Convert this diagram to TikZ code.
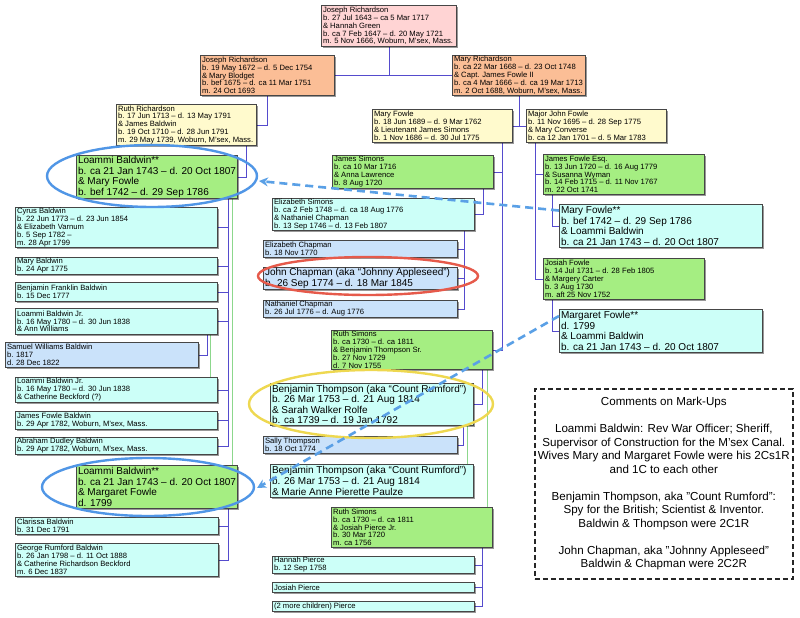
\documentclass[tikz,border=0pt]{standalone}
\usepackage{fontspec}
\setmainfont{Liberation Sans}
\usetikzlibrary{shadows,calc,arrows.meta}
\pgfdeclarelayer{bg}
\pgfsetlayers{bg,main}
\definecolor{cpink}{RGB}{255,212,212}
\definecolor{corange}{RGB}{251,190,150}
\definecolor{cyellow}{RGB}{255,250,205}
\definecolor{cgreen}{RGB}{165,238,130}
\definecolor{ccyan}{RGB}{204,255,248}
\definecolor{cblue}{RGB}{202,226,250}
\definecolor{boxline}{RGB}{70,70,70}
\definecolor{connc}{RGB}{85,75,205}
\definecolor{samec}{RGB}{140,215,140}
\definecolor{ringblue}{RGB}{80,150,230}
\definecolor{ringred}{RGB}{230,90,75}
\definecolor{ringyel}{RGB}{238,216,80}
\definecolor{arrowc}{RGB}{90,160,230}
\tikzset{
  card/.style={draw=boxline, line width=0.7pt,
    drop shadow={shadow xshift=1.6pt, shadow yshift=-1.6pt, opacity=0.4, fill=black}},
  pinkc/.style={fill=cpink},
  orangec/.style={fill=corange},
  yellowc/.style={fill=cyellow},
  greenc/.style={fill=cgreen},
  cyanc/.style={fill=ccyan},
  bluec/.style={fill=cblue},
  smalltxt/.style={font=\fontsize{7.65pt}{7.9pt}\selectfont},
  bigtxt/.style={font=\fontsize{10pt}{10.6pt}\selectfont},
  cardtext/.style={align=left, inner sep=0pt, text=black},
  conn/.style={draw=connc, line width=0.7pt},
  same/.style={draw=samec, line width=0.7pt},
  ring/.style={line width=2.4pt},
  markarrow/.style={draw=arrowc, line width=2.6pt, dash pattern=on 8pt off 5pt,
    -{Stealth[length=9pt,width=9pt]}},
  commentbox/.style={draw=black!85, line width=1.6pt, dash pattern=on 5pt off 3pt},
  commenttext/.style={align=center, font=\fontsize{11.6pt}{13.5pt}\selectfont, inner sep=0pt}
}
% name, colour style, font style, x1, y1, x2, y2, text
\newcommand\famcard[8]{%
  \node[card,#2,anchor=north west,minimum width={(#6)-(#4)},minimum height={(#7)-(#5)},inner sep=0pt] (#1) at (#4,#5) {};
  \node[cardtext,#3,anchor=west] (#1t) at ([xshift=1.8pt]#1.west) {#8};}
\begin{document}
\begin{tikzpicture}[x=1pt,y=-1pt]
\useasboundingbox (0,0) rectangle (800,618);
\begin{pgfonlayer}{bg}
\fill[white] (0,0) rectangle (800,618);
\end{pgfonlayer}

% ---------- top generations
\famcard{jr0}{pinkc}{smalltxt}{321}{5}{456}{46}{Joseph Richardson\\b. 27 Jul 1643 – ca 5 Mar 1717\\\& Hannah Green\\b. ca 7 Feb 1647 – d. 20 May 1721\\m. 5 Nov 1666, Woburn, M'sex, Mass.}
\famcard{jr1}{orangec}{smalltxt}{200}{55}{334}{95}{Joseph Richardson\\b. 19 May 1672 – d. 5 Dec 1754\\\& Mary Blodget\\b. bef 1675 – d. ca 11 Mar 1751\\m. 24 Oct 1693}
\famcard{mr1}{orangec}{smalltxt}{452}{55}{585}{95}{Mary Richardson\\b. ca 22 Mar 1668 – d. 23 Oct 1748\\\& Capt. James Fowle II\\b. ca 4 Mar 1666 – d. ca 19 Mar 1713\\m. 2 Oct 1688, Woburn, M'sex, Mass.}

% ---------- left column
\famcard{ruth}{yellowc}{smalltxt}{116}{104}{256}{145}{Ruth Richardson\\b. 17 Jun 1713 – d. 13 May 1791\\\& James Baldwin\\b. 19 Oct 1710 – d. 28 Jun 1791\\m. 29 May 1739, Woburn, M'sex, Mass.}
\famcard{lb1}{greenc}{bigtxt}{76}{155}{237}{198}{Loammi Baldwin**\\b. ca 21 Jan 1743 – d. 20 Oct 1807\\\& Mary Fowle\\b. bef 1742 – d. 29 Sep 1786}
\famcard{cyrus}{cyanc}{smalltxt}{15}{207}{217}{247}{Cyrus Baldwin\\b. 22 Jun 1773 – d. 23 Jun 1854\\\& Elizabeth Varnum\\b. 5 Sep 1782 –\\m. 28 Apr 1799}
\famcard{maryb}{cyanc}{smalltxt}{15}{257}{217}{274}{Mary Baldwin\\b. 24 Apr 1775}
\famcard{benf}{cyanc}{smalltxt}{15}{282}{217}{301}{Benjamin Franklin Baldwin\\b. 15 Dec 1777}
\famcard{ljr1}{cyanc}{smalltxt}{15}{308}{217}{334}{Loammi Baldwin Jr.\\b. 16 May 1780 – d. 30 Jun 1838\\\& Ann Williams}
\famcard{sam}{bluec}{smalltxt}{5}{342}{198}{367}{Samuel Williams Baldwin\\b. 1817\\d. 28 Dec 1822}
\famcard{ljr2}{cyanc}{smalltxt}{15}{377}{217}{402}{Loammi Baldwin Jr.\\b. 16 May 1780 – d. 30 Jun 1838\\\& Catherine Beckford (?)}
\famcard{jamesb}{cyanc}{smalltxt}{15}{411}{217}{429}{James Fowle Baldwin\\b. 29 Apr 1782, Woburn, M'sex, Mass.}
\famcard{abe}{cyanc}{smalltxt}{15}{437}{217}{454}{Abraham Dudley Baldwin\\b. 29 Apr 1782, Woburn, M'sex, Mass.}
\famcard{lb2}{greenc}{bigtxt}{76}{465}{237}{508}{Loammi Baldwin**\\b. ca 21 Jan 1743 – d. 20 Oct 1807\\\& Margaret Fowle\\d. 1799}
\famcard{clar}{cyanc}{smalltxt}{15}{517}{218}{534}{Clarissa Baldwin\\b. 31 Dec 1791}
\famcard{geo}{cyanc}{smalltxt}{15}{543}{218}{576}{George Rumford Baldwin\\b. 26 Jan 1798 – d. 11 Oct 1888\\\& Catherine Richardson Beckford\\m. 6 Dec 1837}

% ---------- middle column
\famcard{mf}{yellowc}{smalltxt}{372}{109}{512}{142}{Mary Fowle\\b. 18 Jun 1689 – d. 9 Mar 1762\\\& Lieutenant James Simons\\b. 1 Nov 1686 – d. 30 Jul 1775}
\famcard{js}{greenc}{smalltxt}{332}{155}{493}{188}{James Simons\\b. ca 10 Mar 1716\\\& Anna Lawrence\\b. 8 Aug 1720}
\famcard{es}{cyanc}{smalltxt}{272}{198}{474}{230}{Elizabeth Simons\\b. ca 2 Feb 1748 – d. ca 18 Aug 1776\\\& Nathaniel Chapman\\b. 13 Sep 1746 – d. 13 Feb 1807}
\famcard{ec}{bluec}{smalltxt}{263}{240}{457}{257}{Elizabeth Chapman\\b. 18 Nov 1770}
\famcard{jc}{bluec}{bigtxt}{263}{267}{457}{289}{John Chapman (aka “Johnny Appleseed”)\\b. 26 Sep 1774 – d. 18 Mar 1845}
\famcard{nc}{bluec}{smalltxt}{263}{300}{457}{317}{Nathaniel Chapman\\b. 26 Jul 1776 – d. Aug 1776}
\famcard{rs1}{greenc}{smalltxt}{331}{330}{492}{369}{Ruth Simons\\b. ca 1730 – d. ca 1811\\\& Benjamin Thompson Sr.\\b. 27 Nov 1729\\d. 7 Nov 1755}
\famcard{bt1}{cyanc}{bigtxt}{270}{383}{473}{425}{Benjamin Thompson (aka “Count Rumford”)\\b. 26 Mar 1753 – d. 21 Aug 1814\\\& Sarah Walker Rolfe\\b. ca 1739 – d. 19 Jan 1792}
\famcard{st}{bluec}{smalltxt}{263}{436}{457}{453}{Sally Thompson\\b. 18 Oct 1774}
\famcard{bt2}{cyanc}{bigtxt}{270}{464}{473}{497}{Benjamin Thompson (aka “Count Rumford”)\\b. 26 Mar 1753 – d. 21 Aug 1814\\\& Marie Anne Pierette Paulze}
\famcard{rs2}{greenc}{smalltxt}{331}{507}{492}{547}{Ruth Simons\\b. ca 1730 – d. ca 1811\\\& Josiah Pierce Jr.\\b. 30 Mar 1720\\m. ca 1756}
\famcard{hp}{cyanc}{smalltxt}{272}{556}{474}{573}{Hannah Pierce\\b. 12 Sep 1758}
\famcard{jp}{cyanc}{smalltxt}{272}{582}{474}{592}{Josiah Pierce}
\famcard{mc}{cyanc}{smalltxt}{272}{601}{474}{611}{(2 more children) Pierce}

% ---------- right column
\famcard{jf}{yellowc}{smalltxt}{526}{109}{666}{142}{Major John Fowle\\b. 11 Nov 1695 – d. 28 Sep 1775\\\& Mary Converse\\b. ca 12 Jan 1701 – d. 5 Mar 1783}
\famcard{jfe}{greenc}{smalltxt}{543}{154}{704}{194}{James Fowle Esq.\\b. 13 Jun 1720 – d. 16 Aug 1779\\\& Susanna Wyman\\b. 14 Feb 1715 – d. 11 Nov 1767\\m. 22 Oct 1741}
\famcard{marf}{cyanc}{bigtxt}{559}{204}{762}{247}{Mary Fowle**\\b. bef 1742 – d. 29 Sep 1786\\\& Loammi Baldwin\\b. ca 21 Jan 1743 – d. 20 Oct 1807}
\famcard{jos}{greenc}{smalltxt}{543}{258}{704}{299}{Josiah Fowle\\b. 14 Jul 1731 – d. 28 Feb 1805\\\& Margery Carter\\b. 3 Aug 1730\\m. aft 25 Nov 1752}
\famcard{marg}{cyanc}{bigtxt}{559}{309}{762}{352}{Margaret Fowle**\\d. 1799\\\& Loammi Baldwin\\b. ca 21 Jan 1743 – d. 20 Oct 1807}

% ---------- connectors
\begin{pgfonlayer}{bg}
\draw[conn] (jr0.south) -- (jr0.south |- jr1.east);
\draw[conn] (jr1.east) -- (mr1.west);
\draw[conn] (jr1.south) |- (ruth.east);
\draw[conn] (mr1.south) -- (mr1.south |- mf.east);
\draw[conn] (mf.east) -- (jf.west);
\draw[conn] ($(ruth.south east)+(-10,0)$) |- (lb1.east);
% Loammi + Mary Fowle children
\coordinate (t1) at ($(lb1.south east)+(-9,0)$);
\draw[conn] (t1) |- (abe.east);
\foreach \c in {cyrus,maryb,benf,ljr1,ljr2,jamesb}
  \draw[conn] (t1 |- \c.east) -- (\c.east);
\draw[conn] ($(ljr1.south east)+(-10,0)$) |- (sam.east);
\draw[same] ($(ljr1.south east)+(-7,0)$) -- ($(ljr2.north east)+(-7,0)$);
\draw[same] ($(lb1.south east)+(-5,0)$) -- ($(lb2.north east)+(-5,0)$);
% Loammi + Margaret Fowle children
\coordinate (t2) at ($(lb2.south east)+(-9,0)$);
\draw[conn] (t2) |- (geo.east);
\draw[conn] (t2 |- clar.east) -- (clar.east);
% Mary Fowle + James Simons
\coordinate (t3) at ($(mf.south east)+(-10,0)$);
\draw[conn] (t3) |- (rs1.east);
\draw[conn] (t3 |- js.east) -- (js.east);
\draw[conn] ($(js.south east)+(-10,0)$) |- (es.east);
\coordinate (t4) at ($(es.south east)+(-10,0)$);
\draw[conn] (t4) |- (nc.east);
\draw[conn] (t4 |- ec.east) -- (ec.east);
\draw[conn] (t4 |- jc.east) -- (jc.east);
\draw[conn] ($(rs1.south east)+(-10,0)$) |- (bt1.east);
\draw[conn] ($(bt1.south east)+(-10,0)$) |- (st.east);
\draw[same] ($(bt1.south east)+(-6,0)$) -- ($(bt2.north east)+(-6,0)$);
\draw[same] ($(rs1.south east)+(-5,0)$) -- ($(rs2.north east)+(-5,0)$);
\coordinate (t6) at ($(rs2.south east)+(-10,0)$);
\draw[conn] (t6) |- (mc.east);
\draw[conn] (t6 |- hp.east) -- (hp.east);
\draw[conn] (t6 |- jp.east) -- (jp.east);
% Major John Fowle
\coordinate (t5) at ($(jf.south west)+(9,0)$);
\draw[conn] (t5) |- (jos.west);
\draw[conn] (t5 |- jfe.west) -- (jfe.west);
\draw[conn] ($(jfe.south west)+(9,0)$) |- (marf.west);
\draw[conn] ($(jos.south west)+(9,0)$) |- (marg.west);
\end{pgfonlayer}

% ---------- mark-ups
\draw[ring,draw=ringblue] (152,176) ellipse [x radius=105pt, y radius=31pt];
\draw[ring,draw=ringblue] (148,487) ellipse [x radius=106pt, y radius=29pt];
\draw[ring,draw=ringred] (368,276) ellipse [x radius=110pt, y radius=19pt];
\draw[ring,draw=ringyel] (371,404) ellipse [x radius=122pt, y radius=34pt];
\coordinate (tip1) at (259,181);
\coordinate (tip2) at (257,488);
\draw[markarrow] ($(marf.north west)!0.15!(marf.south west)$) -- (tip1);
\draw[markarrow] ($(marg.north west)!0.16!(marg.south west)$) -- (tip2);

% ---------- comments
\node[commentbox, anchor=north west, minimum width=258pt, minimum height=190pt] (cbox) at (534,388) {};
\node[commenttext] (ctext) at (cbox.center) {Comments on Mark-Ups\\[13.5pt]
Loammi Baldwin: Rev War Officer; Sheriff,\\
Supervisor of Construction for the M'sex Canal.\\
Wives Mary and Margaret Fowle were his 2Cs1R\\
and 1C to each other\\[13.5pt]
Benjamin Thompson, aka "Count Rumford":\\
Spy for the British; Scientist \& Inventor.\\
Baldwin \& Thompson were 2C1R\\[13.5pt]
John Chapman, aka "Johnny Appleseed"\\
Baldwin \& Chapman were 2C2R};
\end{tikzpicture}
\end{document}
